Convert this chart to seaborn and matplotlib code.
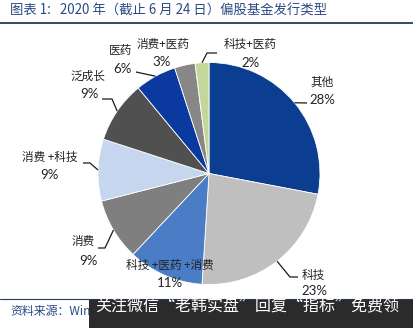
import matplotlib
matplotlib.use("Agg")
import matplotlib.pyplot as plt
import seaborn as sns
import numpy as np

# Fund issuance by type, 2020 (through June 24), percent of total
categories = ["其他", "科技", "科技+医药+消费", "消费", "消费+科技",
              "泛成长", "医药", "消费+医药", "科技+医药"]
shares = [28, 23, 11, 9, 9, 9, 6, 3, 2]
pct_labels = [f"{v}%" for v in shares]
name_labels = ["其他", "科技", "科技 +医药 +消费", "消费", "消费 +科技",
               "泛成长", "医药", "消费+医药", "科技+医药"]
slice_colors = ["#0b3d91", "#bfbfbf", "#4a7dc6", "#7f7f7f", "#c6d6ef",
                "#505050", "#0a3aa0", "#878787", "#c4d79b"]

title_text = "图表 1:   2020 年（截止 6 月 24 日）偏股基金发行类型"
source_text = "资料来源：Wind"
banner_text = "关注微信“老韩实盘”回复“指标”免费领"

W, H = 414, 328

sns.set_theme(style="white")
plt.rcParams["font.family"] = ["Noto Sans CJK SC", "DejaVu Sans"]

fig = plt.figure(figsize=(W / 100, H / 100), dpi=100)
ax = fig.add_axes([0, 0, 1, 1])


def px(x, y):
    """Pixel position (origin top-left) to data coordinates."""
    return x, H - y


wedges, _ = ax.pie(shares, colors=sns.color_palette(slice_colors),
                   startangle=90, counterclock=False,
                   center=px(209, 173.5), radius=111,
                   wedgeprops=dict(edgecolor="white", linewidth=0.6))

ax.set_xlim(0, W)
ax.set_ylim(0, H)
ax.set_aspect("equal")
ax.axis("off")

# label layout: name centre, percent centre, leader elbows (pixels)
name_pos = [(322, 82), (313, 275), (170, 265), (83, 241), (50, 157),
            (88, 76), (121, 50), (163, 44), (250, 44)]
pct_pos = [(322, 100), (314, 291), (170, 283), (88, 261), (49, 175),
           (89, 94), (122, 69), (162, 62), (251, 63)]
leaders = [
    [(307, 103)],
    [(290, 277), (298, 277)],
    [],
    [(105, 248), (98, 248)],
    [(90, 163), (83, 163)],
    [(112, 99), (102, 99)],
    [(136, 72)],
    [],
    [(207, 53), (217, 53)],
]

text_color = "#222222"
for w, nm, pc, npos, ppos, lead in zip(wedges, name_labels, pct_labels,
                                       name_pos, pct_pos, leaders):
    x, y = px(*npos)
    ax.text(x, y, nm, ha="center", va="center", fontsize=8.4,
            color=text_color)
    x, y = px(*ppos)
    ax.text(x, y, pc, ha="center", va="center", fontsize=9.5,
            color=text_color, family=["Lato", "DejaVu Sans"])
    if lead:
        mid = np.deg2rad((w.theta1 + w.theta2) / 2)
        cx, cy = w.center
        pts = [(cx + w.r * np.cos(mid), cy + w.r * np.sin(mid))]
        pts += [px(*p) for p in lead]
        xs, ys = zip(*pts)
        ax.plot(xs, ys, color="#1a1a1a", linewidth=0.9, solid_capstyle="butt")

# title and rules
tx, ty = px(10, 11)
ax.text(tx, ty, title_text, ha="left", va="center", fontsize=9.6,
        color="#2a4b85")
ax.plot([0, W], [H - 22.5, H - 22.5], color="#233b5c", linewidth=1.3)
ax.plot([0, W], [H - 299, H - 299], color="#233b5c", linewidth=0.8)

sx, sy = px(10, 312)
ax.text(sx, sy, source_text, ha="left", va="center", fontsize=8.6,
        color="#2a4b85")

# dark banner along the bottom
bx, by = px(89, 328)
ax.add_patch(plt.Rectangle((bx, by), W - 89, 28.5, facecolor="#2b2b2b",
                           edgecolor="none", zorder=5))
mx, my = px(247, 306)
ax.text(mx, my, banner_text, ha="center", va="center", fontsize=11.5,
        color="white", zorder=6)

fig.savefig("out.png", dpi=100)
